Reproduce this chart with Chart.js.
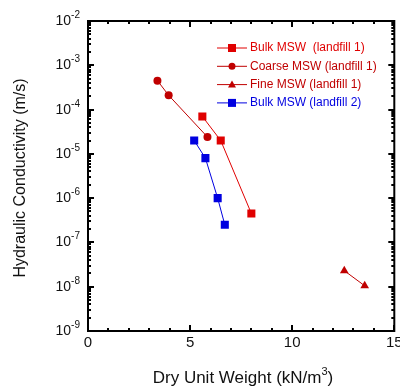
<!DOCTYPE html>
<html>
<head>
<meta charset="utf-8">
<script src="https://cdn.jsdelivr.net/npm/chart.js@4"></script>
<style>
  html, body { margin: 0; padding: 0; background: #fff; overflow: hidden; }
  #wrap { position: relative; width: 400px; height: 388px; }
</style>
</head>
<body>
<div id="wrap"><canvas id="kChart"></canvas></div>
<script>
// Dados (peso específico seco em kN/m3, condutividade em m/s)
const bulk1X = [5.6, 6.5, 8.0];
const bulk1K = [7e-5, 2e-5, 4.5e-7];
const coarseX = [3.4, 3.95, 5.85];
const coarseK = [4.5e-4, 2.1e-4, 2.4e-5];
const fineX = [12.55, 13.55];
const fineK = [2.3e-8, 1.05e-8];
const bulk2X = [5.2, 5.75, 6.35, 6.7];
const bulk2K = [2e-5, 8e-6, 1e-6, 2.5e-7];

const seriesNames = ['Bulk MSW  (landfill 1)', 'Coarse MSW (landfill 1)', 'Fine MSW (landfill 1)', 'Bulk MSW (landfill 2)'];
const xTicks = [0, 5, 10, 15];
const yExps = [-9, -8, -7, -6, -5, -4, -3, -2];

const RED = '#e00000';
const DARKRED = '#c00000';
const BLUE = '#0000e0';
const FONT = 'Arial, "Liberation Sans", sans-serif';

function pts(xs, ys) {
  return xs.map((v, i) => ({ x: v, y: ys[i] }));
}

function serie(label, data, color, style, radius) {
  return {
    label: label,
    data: data,
    borderColor: color,
    backgroundColor: color,
    borderWidth: 1,
    pointStyle: style,
    pointRadius: radius,
    pointBorderWidth: 0,
    pointHoverRadius: radius,
    showLine: true,
    tension: 0,
  };
}

// Marcador desenhado à mão para a legenda
function marker(ctx, style, x, y, color) {
  ctx.fillStyle = color;
  ctx.beginPath();
  if (style === 'rect') {
    ctx.rect(x - 4, y - 4, 8, 8);
  } else if (style === 'circle') {
    ctx.arc(x, y, 3.5, 0, Math.PI * 2);
  } else {
    ctx.moveTo(x, y - 4);
    ctx.lineTo(x + 4, y + 3);
    ctx.lineTo(x - 4, y + 3);
    ctx.closePath();
  }
  ctx.fill();
}

const frame = {
  id: 'frame',
  afterDatasetsDraw(chart) {
    const { ctx, chartArea: a, scales: { x, y } } = chart;
    ctx.save();
    ctx.strokeStyle = '#000';
    ctx.lineWidth = 2;
    ctx.strokeRect(a.left, a.top, a.right - a.left, a.bottom - a.top);

    // ticks para dentro, nos quatro lados
    ctx.beginPath();
    for (let v = 0; v <= 15; v++) {
      const px = Math.round(x.getPixelForValue(v));
      const len = v % 5 === 0 ? 6 : 3;
      ctx.moveTo(px, a.bottom); ctx.lineTo(px, a.bottom - len);
      ctx.moveTo(px, a.top); ctx.lineTo(px, a.top + len);
    }
    for (let e = -9; e <= -2; e++) {
      for (let m = 1; m <= 9; m++) {
        if (e === -2 && m > 1) break;
        const py = Math.round(y.getPixelForValue(m * Math.pow(10, e)));
        const len = m === 1 ? 6 : 3;
        ctx.moveTo(a.left, py); ctx.lineTo(a.left + len, py);
        ctx.moveTo(a.right, py); ctx.lineTo(a.right - len, py);
      }
    }
    ctx.stroke();

    // rótulos do eixo x
    ctx.fillStyle = '#111';
    ctx.font = '15px ' + FONT;
    ctx.textAlign = 'center';
    ctx.textBaseline = 'middle';
    xTicks.forEach(v => ctx.fillText(String(v), x.getPixelForValue(v), a.bottom + 12));

    // rótulos do eixo y: 10 com expoente
    yExps.forEach(e => {
      const py = y.getPixelForValue(Math.pow(10, e));
      ctx.font = '10px ' + FONT;
      const sup = String(e);
      const sw = ctx.measureText(sup).width;
      const right = a.left - 8;
      ctx.textAlign = 'left';
      ctx.textBaseline = 'alphabetic';
      ctx.fillText(sup, right - sw, py - 3);
      ctx.font = '14px ' + FONT;
      ctx.textAlign = 'right';
      ctx.fillText('10', right - sw, py + 4);
    });

    // títulos dos eixos
    ctx.font = '16px ' + FONT;
    ctx.textAlign = 'center';
    ctx.textBaseline = 'middle';
    ctx.save();
    ctx.translate(21, (a.top + a.bottom) / 2 + 2);
    ctx.rotate(-Math.PI / 2);
    ctx.fillText('Hydraulic Conductivity (m/s)', 0, 0);
    ctx.restore();

    const t1 = 'Dry Unit Weight (kN/m';
    const t2 = ')';
    ctx.font = '17px ' + FONT;
    const w1 = ctx.measureText(t1).width;
    const w2 = ctx.measureText(t2).width;
    ctx.font = '11px ' + FONT;
    const w3 = ctx.measureText('3').width;
    const total = w1 + w2 + w3;
    let sx = 243 - total / 2;
    ctx.textAlign = 'left';
    ctx.textBaseline = 'alphabetic';
    ctx.font = '17px ' + FONT;
    ctx.fillText(t1, sx, 383);
    ctx.font = '11px ' + FONT;
    ctx.fillText('3', sx + w1, 375);
    ctx.font = '17px ' + FONT;
    ctx.fillText(t2, sx + w1 + w3, 383);

    // legenda
    const ds = chart.data.datasets;
    ctx.font = '12px ' + FONT;
    ctx.textBaseline = 'middle';
    ds.forEach((d, i) => {
      const ly = 48 + i * 18.3;
      ctx.strokeStyle = d.borderColor;
      ctx.lineWidth = 1;
      ctx.beginPath();
      ctx.moveTo(217, ly); ctx.lineTo(247, ly);
      ctx.stroke();
      marker(ctx, d.pointStyle, 232, ly, d.borderColor);
      ctx.fillStyle = d.borderColor;
      ctx.fillText(d.label, 250, ly);
    });
    ctx.restore();
  }
};

new Chart(document.getElementById('kChart'), {
  type: 'scatter',
  data: {
    datasets: [
      serie(seriesNames[0], pts(bulk1X, bulk1K), RED, 'rect', 5.7),
      serie(seriesNames[1], pts(coarseX, coarseK), DARKRED, 'circle', 4),
      serie(seriesNames[2], pts(fineX, fineK), DARKRED, 'triangle', 5),
      serie(seriesNames[3], pts(bulk2X, bulk2K), BLUE, 'rect', 5.7),
    ],
  },
  options: {
    responsive: true,
    maintainAspectRatio: false,
    animation: false,
    layout: { padding: { top: 21, right: 4, left: 0, bottom: 0 } },
    plugins: {
      legend: { display: false },
      tooltip: { enabled: false },
    },
    scales: {
      x: {
        type: 'linear',
        min: 0,
        max: 15,
        grid: { display: false },
        border: { display: false },
        ticks: { display: false },
        afterFit(scale) { scale.height = 57; },
      },
      y: {
        type: 'logarithmic',
        min: 1e-9,
        max: 1e-2,
        grid: { display: false },
        border: { display: false },
        ticks: { display: false },
        afterFit(scale) { scale.width = 88; },
      },
    },
  },
  plugins: [frame],
});
</script>
</body>
</html>
